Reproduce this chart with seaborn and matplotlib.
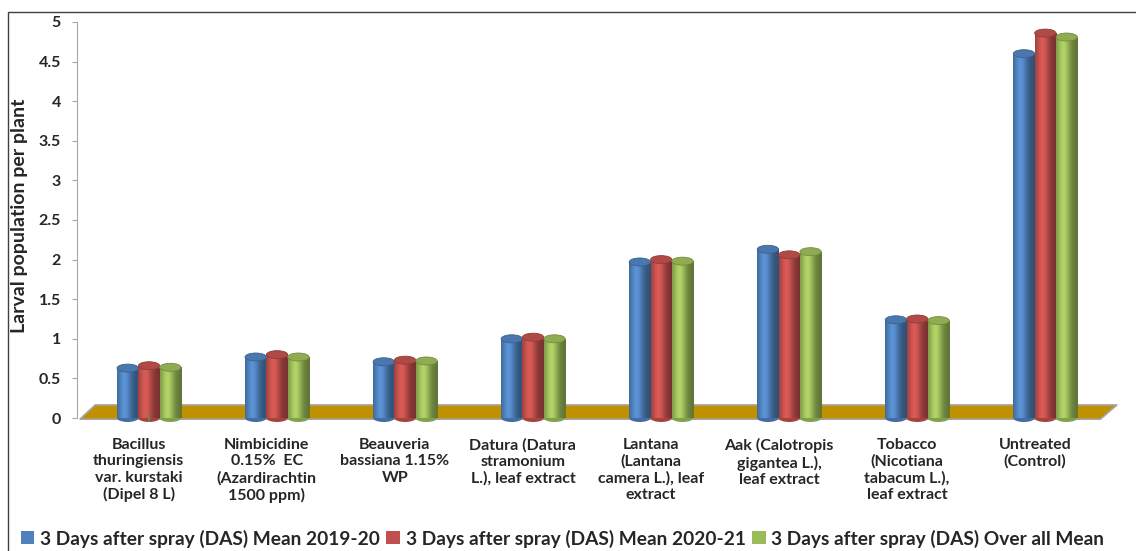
import numpy as np
import pandas as pd
import matplotlib
matplotlib.use("Agg")
import matplotlib.pyplot as plt
import seaborn as sns
from matplotlib.patches import Ellipse, Polygon, Rectangle
from matplotlib.colors import to_rgb
from matplotlib.ticker import FuncFormatter

treatments = [
    "Bacillus\nthuringiensis\nvar. kurstaki\n(Dipel 8 L)",
    "Nimbicidine\n0.15%  EC\n(Azardirachtin\n1500 ppm)",
    "Beauveria\nbassiana 1.15%\nWP",
    "Datura (Datura\nstramonium\nL.), leaf extract",
    "Lantana\n(Lantana\ncamera L.), leaf\nextract",
    "Aak (Calotropis\ngigantea L.),\nleaf extract",
    "Tobacco\n(Nicotiana\ntabacum L.),\nleaf extract",
    "Untreated\n(Control)",
]
series = [
    "3 Days after spray (DAS) Mean 2019-20",
    "3 Days after spray (DAS) Mean 2020-21",
    "3 Days after spray (DAS) Over all Mean",
]
mean_2019 = [0.63, 0.77, 0.71, 1.00, 1.97, 2.13, 1.24, 4.60]
mean_2020 = [0.66, 0.80, 0.73, 1.02, 2.00, 2.06, 1.25, 4.86]
mean_all = [0.64, 0.77, 0.72, 1.00, 1.98, 2.10, 1.23, 4.81]
colors = ["#4F81BD", "#C0504D", "#9BBB59"]

rows = []
for s, vals in zip(series, [mean_2019, mean_2020, mean_all]):
    for t, v in zip(treatments, vals):
        rows.append({"treatment": t, "series": s, "value": v})
df = pd.DataFrame(rows)

sns.set_style("white")
plt.rcParams["font.family"] = ["Lato", "DejaVu Sans"]

W, H = 1136, 551
fig = plt.figure(figsize=(W / 100, H / 100), dpi=100)
ymin = -0.1
px_per_unit = 396 / 5
ax_h = px_per_unit * (5 - ymin)
ax_bottom_px = 418 + px_per_unit * (-ymin)
ax = fig.add_axes([77 / W, (H - ax_bottom_px) / H, 1040 / W, ax_h / H])

sns.barplot(data=df, x="treatment", y="value", hue="series", palette=colors,
            width=0.5, ax=ax, linewidth=0, saturation=1, zorder=3)

handles, labels = ax.get_legend_handles_labels()
ax.get_legend().remove()

# cylinder look on each bar
cap_h = 8 / px_per_unit
bars = list(ax.patches)
for bar in bars:
    base = np.array(to_rgb(bar.get_facecolor()))
    x0, w = bar.get_x(), bar.get_width()
    top = bar.get_height()
    t = np.linspace(0, 1, 60)
    f = 0.72 + 0.45 * np.exp(-((t - 0.35) / 0.3) ** 2) - 0.1 * t
    img = np.clip(base[None, None, :] * f[None, :, None], 0, 1)
    im = ax.imshow(img, extent=[x0, x0 + w, 0, top], aspect="auto",
                   zorder=4, interpolation="bilinear")
    im.set_clip_path(bar)
    ax.add_patch(Ellipse((x0 + w / 2, 0), w, cap_h, facecolor=base * 0.85,
                         edgecolor="none", zorder=3.5))
    ax.add_patch(Ellipse((x0 + w / 2, top), w, cap_h,
                         facecolor=np.clip(base * 0.92, 0, 1),
                         edgecolor=np.clip(base * 0.75, 0, 1), linewidth=0.6,
                         zorder=5))
ax.set_xlim(-0.5625, 7.56)
ax.set_ylim(ymin, 5)

# gold floor
floor = Polygon([(-0.54, -0.015), (-0.42, 0.165), (7.56, 0.165), (7.43, -0.015)],
                closed=True, facecolor="#BF9000", edgecolor="#A6A6A6",
                linewidth=1.2, zorder=2, clip_on=False)
ax.add_patch(floor)

for s in ["top", "right", "bottom"]:
    ax.spines[s].set_visible(False)
ax.spines["left"].set_color("#A6A6A6")
ax.spines["left"].set_bounds(0, 5)

ax.set_yticks(np.arange(0, 5.01, 0.5))
ax.yaxis.set_major_formatter(FuncFormatter(lambda v, p: f"{v:g}"))
ax.tick_params(axis="y", which="major", left=True, length=3.6, width=0.8,
               color="#A6A6A6", labelsize=11.5, pad=8)
for lab in ax.get_yticklabels():
    lab.set_fontweight("bold")

ax.set_xticks(np.arange(len(treatments)) - 0.08)
ax.set_xticklabels(treatments, fontsize=11.5, fontweight="bold",
                   linespacing=1.22)
ax.tick_params(axis="x", bottom=False, pad=5)
ax.set_xlabel("")
ax.set_ylabel("Larval population per plant", fontsize=14, fontweight="bold")
ax.yaxis.set_label_coords(-0.047, 0.52)

# chart border
fig.patches.append(Rectangle((8 / W, -0.1), 1.2, (H - 12) / H + 0.1,
                             transform=fig.transFigure, fill=False,
                             edgecolor="#404040", linewidth=1))

fig.legend(handles, labels, loc="lower left", bbox_to_anchor=(0.003, -0.025),
           ncol=3, frameon=False, handlelength=0.7, handleheight=0.7,
           handletextpad=0.3, columnspacing=0.35,
           prop={"size": 13.8, "weight": "bold"})

fig.savefig("out.png", dpi=100)
